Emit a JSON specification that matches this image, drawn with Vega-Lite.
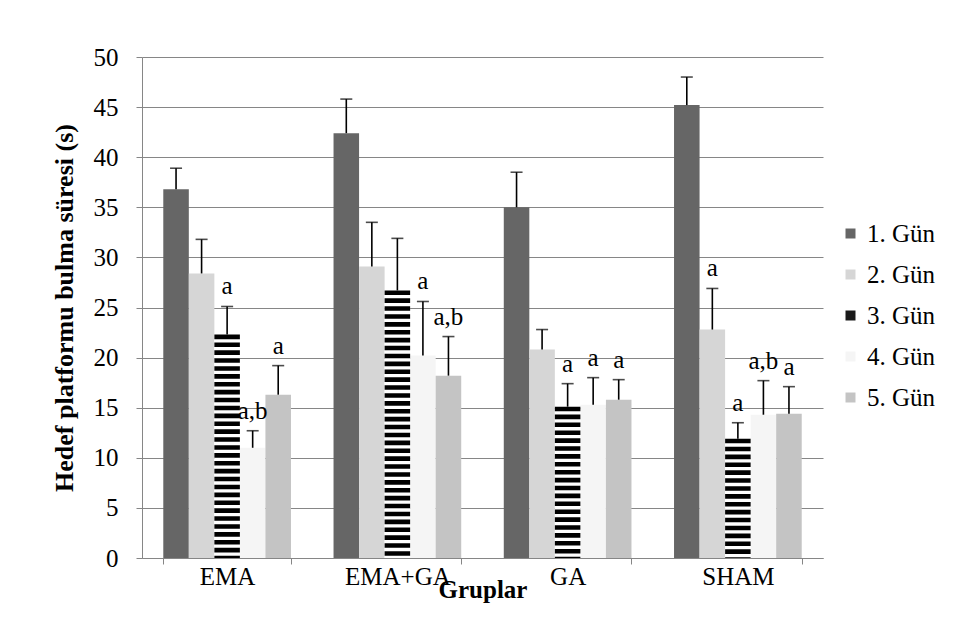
{
  "$schema": "https://vega.github.io/schema/vega-lite/v6.json",
  "width": 681,
  "height": 501,
  "autosize": {"type": "none"},
  "padding": {"left": 142, "top": 57, "right": 135, "bottom": 75},
  "background": "white",
  "config": {
    "font": "'Liberation Serif', 'Times New Roman', 'DejaVu Serif', serif",
    "view": {"stroke": null},
    "axis": {"labelColor": "black", "titleColor": "black", "labelFont": "'Liberation Serif', 'Times New Roman', 'DejaVu Serif', serif", "titleFont": "'Liberation Serif', 'Times New Roman', 'DejaVu Serif', serif"}
  },
  "data": {
    "values": [
      {"group": "EMA", "day": "1. Gün", "mean": 36.8, "upper": 38.9, "label": ""},
      {"group": "EMA", "day": "2. Gün", "mean": 28.4, "upper": 31.8, "label": ""},
      {"group": "EMA", "day": "3. Gün", "mean": 22.3, "upper": 25.1, "label": "a"},
      {"group": "EMA", "day": "4. Gün", "mean": 11.0, "upper": 12.7, "label": "a,b"},
      {"group": "EMA", "day": "5. Gün", "mean": 16.3, "upper": 19.2, "label": "a"},
      {"group": "EMA+GA", "day": "1. Gün", "mean": 42.4, "upper": 45.8, "label": ""},
      {"group": "EMA+GA", "day": "2. Gün", "mean": 29.1, "upper": 33.5, "label": ""},
      {"group": "EMA+GA", "day": "3. Gün", "mean": 26.7, "upper": 31.9, "label": ""},
      {"group": "EMA+GA", "day": "4. Gün", "mean": 20.2, "upper": 25.6, "label": "a"},
      {"group": "EMA+GA", "day": "5. Gün", "mean": 18.2, "upper": 22.1, "label": "a,b"},
      {"group": "GA", "day": "1. Gün", "mean": 35.0, "upper": 38.5, "label": ""},
      {"group": "GA", "day": "2. Gün", "mean": 20.8, "upper": 22.8, "label": ""},
      {"group": "GA", "day": "3. Gün", "mean": 15.1, "upper": 17.4, "label": "a"},
      {"group": "GA", "day": "4. Gün", "mean": 15.3, "upper": 18.0, "label": "a"},
      {"group": "GA", "day": "5. Gün", "mean": 15.8, "upper": 17.8, "label": "a"},
      {"group": "SHAM", "day": "1. Gün", "mean": 45.2, "upper": 48.0, "label": ""},
      {"group": "SHAM", "day": "2. Gün", "mean": 22.8, "upper": 26.9, "label": "a"},
      {"group": "SHAM", "day": "3. Gün", "mean": 11.9, "upper": 13.5, "label": "a"},
      {"group": "SHAM", "day": "4. Gün", "mean": 14.3, "upper": 17.7, "label": "a,b"},
      {"group": "SHAM", "day": "5. Gün", "mean": 14.4, "upper": 17.1, "label": "a"}
    ]
  },
  "encoding": {
    "x": {
      "field": "group",
      "type": "nominal",
      "sort": ["EMA", "EMA+GA", "GA", "SHAM"],
      "scale": {"paddingInner": 0.25, "paddingOuter": 0.125},
      "axis": {
        "title": "Gruplar",
        "titleFontSize": 25,
        "titleFontWeight": "bold",
        "titlePadding": -12,
        "labelFontSize": 25,
        "labelAngle": 0,
        "labelPadding": 0,
        "tickBand": "extent",
        "tickSize": 6,
        "tickColor": "#868686",
        "domainColor": "#868686",
        "grid": false
      }
    },
    "xOffset": {
      "field": "day",
      "type": "nominal",
      "sort": ["1. Gün", "2. Gün", "3. Gün", "4. Gün", "5. Gün"],
      "scale": {"domain": ["1. Gün", "2. Gün", "3. Gün", "4. Gün", "5. Gün"], "paddingInner": 0, "paddingOuter": 0}
    }
  },
  "layer": [
    {
      "transform": [{"filter": "datum.day !== '3. Gün'"}],
      "mark": {"type": "bar", "strokeWidth": 0},
      "encoding": {
        "y": {
          "field": "mean",
          "type": "quantitative",
          "scale": {"domain": [0, 50]},
          "axis": {
            "title": "Hedef platformu bulma süresi (s)",
            "titleFontSize": 26,
            "titleFontWeight": "bold",
            "titlePadding": 16,
            "labelFontSize": 25,
            "labelPadding": 18,
            "values": [0, 5, 10, 15, 20, 25, 30, 35, 40, 45, 50],
            "grid": true,
            "gridColor": "#868686",
            "gridWidth": 1,
            "tickColor": "#868686",
            "tickSize": 6,
            "domainColor": "#868686"
          }
        },
        "color": {
          "field": "day",
          "type": "nominal",
          "scale": {
            "domain": ["1. Gün", "2. Gün", "3. Gün", "4. Gün", "5. Gün"],
            "range": ["#666666", "#d6d6d6", "#1a1a1a", "#f5f5f5", "#c4c4c4"]
          },
          "legend": {
            "title": null,
            "orient": "none",
            "legendX": 696,
            "legendY": 164,
            "padding": 0,
            "symbolType": "square",
            "symbolSize": 100,
            "symbolStrokeWidth": 0,
            "symbolOpacity": 1,
            "labelFontSize": 25,
            "labelColor": "black",
            "labelFont": "'Liberation Serif', 'Times New Roman', 'DejaVu Serif', serif",
            "labelOffset": 4,
            "rowPadding": 15
          }
        }
      }
    },
    {
      "transform": [{"filter": "datum.day === '3. Gün'"}],
      "mark": {"type": "bar", "strokeWidth": 0, "color": "white"},
      "encoding": {
        "y": {"field": "mean", "type": "quantitative"}
      }
    },
    {
      "transform": [{"filter": "datum.day === '3. Gün'"}],
      "mark": {"type": "rule", "color": "black", "strokeWidth": 25.5, "strokeDash": [4.6, 3.3], "strokeCap": "butt"},
      "encoding": {
        "y": {"field": "mean", "type": "quantitative"},
        "y2": {"datum": 0}
      }
    },
    {
      "mark": {"type": "rule", "color": "black", "strokeWidth": 1.6},
      "encoding": {
        "y": {"field": "mean", "type": "quantitative"},
        "y2": {"field": "upper"}
      }
    },
    {
      "mark": {"type": "tick", "color": "black", "thickness": 1.6, "size": 12},
      "encoding": {
        "y": {"field": "upper", "type": "quantitative"}
      }
    },
    {
      "mark": {"type": "text", "baseline": "alphabetic", "dy": -12, "fontSize": 25, "color": "black", "font": "'Liberation Serif', 'Times New Roman', 'DejaVu Serif', serif"},
      "encoding": {
        "y": {"field": "upper", "type": "quantitative"},
        "text": {"field": "label"}
      }
    }
  ]
}
